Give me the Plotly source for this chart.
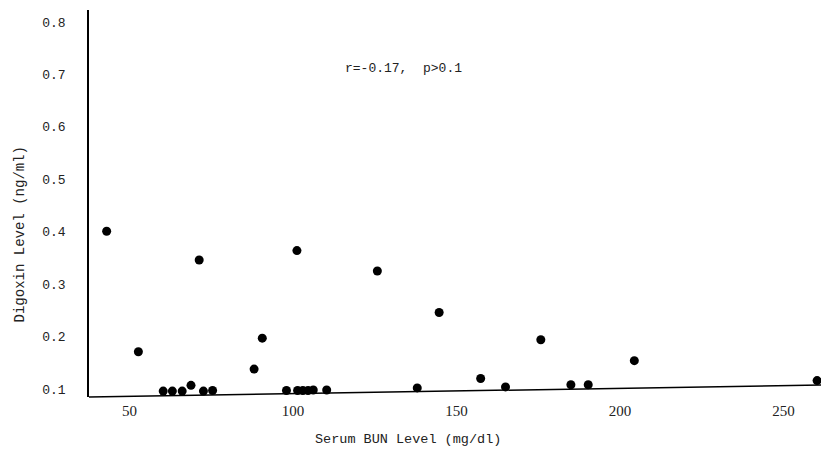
import plotly.graph_objects as go

# Data
bun = [43.0, 52.7, 60.3, 63.1, 66.1, 68.8, 71.3, 72.6, 75.4, 88.1, 90.6,
       98.0, 101.2, 101.4, 103.0, 104.6, 106.2, 110.3, 125.8, 138.0, 144.7,
       157.4, 165.0, 175.8, 185.0, 190.3, 204.4, 260.3]
digoxin = [0.401, 0.171, 0.096, 0.096, 0.096, 0.107, 0.346, 0.096, 0.097, 0.138, 0.197,
           0.097, 0.364, 0.097, 0.097, 0.097, 0.098, 0.098, 0.325, 0.102, 0.246,
           0.120, 0.104, 0.194, 0.108, 0.108, 0.154, 0.116]

x_ticks = [50, 100, 150, 200, 250]
y_ticks = [0.1, 0.2, 0.3, 0.4, 0.5, 0.6, 0.7, 0.8]
y_tick_text = ["0.1", "0.2", "0.3", "0.4", "0.5", "0.6", "0.7", "0.8"]

MONO = "Liberation Mono, Courier New, monospace"
SERIF = "Liberation Serif, Times New Roman, serif"
INK = "#222"

fig = go.Figure()
fig.add_trace(go.Scatter(
    x=bun, y=digoxin, mode="markers",
    marker=dict(color="black", size=9, line=dict(width=0)),
    cliponaxis=False, showlegend=False,
))

fig.update_layout(
    width=821, height=458,
    margin=dict(l=89, r=0, t=10, b=61),
    paper_bgcolor="white", plot_bgcolor="white",
    xaxis=dict(
        range=[37.6, 261.5], tickvals=x_ticks, showgrid=False, zeroline=False,
        showline=False, ticks="", ticklabelstandoff=3,
        tickfont=dict(family=SERIF, size=15, color=INK),
    ),
    yaxis=dict(
        range=[0.0847, 0.823], tickvals=y_ticks, ticktext=y_tick_text,
        showgrid=False, zeroline=False, showline=True, linecolor="black", linewidth=1.5,
        ticks="", ticklabelstandoff=19,
        tickfont=dict(family=MONO, size=13, color=INK),
    ),
    shapes=[dict(type="line", xref="paper", yref="paper", x0=0, y0=0, x1=1, y1=0.031,
                 line=dict(color="black", width=1.5))],
    annotations=[
        dict(text="Digoxin Level (ng/ml)", xref="paper", yref="paper", x=-0.0943, y=0.42,
             xanchor="center", yanchor="middle", textangle=-90, showarrow=False,
             font=dict(family=MONO, size=14, color=INK)),
        dict(text="Serum BUN Level (mg/dl)", xref="paper", yref="paper", x=0.436, y=-0.111,
             xanchor="center", yanchor="middle", showarrow=False,
             font=dict(family=MONO, size=13.5, color=INK)),
        dict(text="r=-0.17,  p>0.1", xref="paper", yref="paper", x=0.429, y=0.85,
             xanchor="center", yanchor="middle", showarrow=False,
             font=dict(family=MONO, size=13, color=INK)),
    ],
)

fig.write_html(
    "out.html",
    config={"displayModeBar": False},
    post_script="document.body.style.margin='0';document.body.style.overflow='hidden';",
)
